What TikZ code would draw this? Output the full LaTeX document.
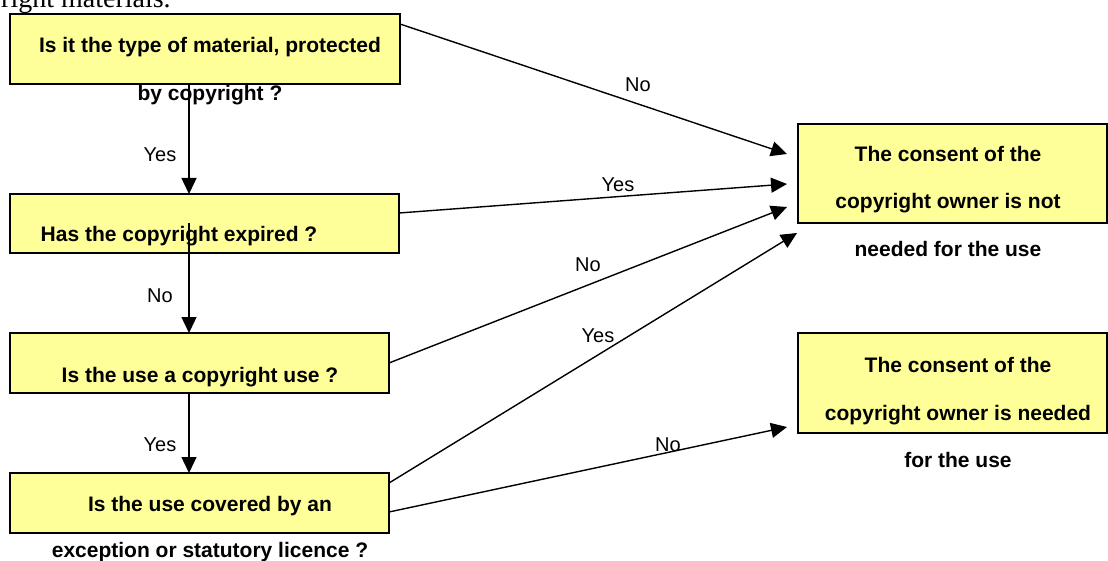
\documentclass[tikz,border=0pt]{standalone}
\usepackage{fontspec}
\setmainfont{Liberation Sans}
\newfontfamily\serifface{Liberation Serif}
\usetikzlibrary{arrows.meta,calc}
\definecolor{boxyellow}{HTML}{FFFF99}
\begin{document}
\begin{tikzpicture}[x=1pt,y=-1pt,
  qbox/.style={draw=black,line width=1.7pt,fill=boxyellow,rectangle,inner sep=0pt,outer sep=0pt,anchor=north west},
  btext/.style={font=\fontsize{21}{25}\selectfont\bfseries,anchor=base,inner sep=0pt},
  lbl/.style={font=\fontsize{20}{24}\selectfont,anchor=base,inner sep=0pt},
  conn/.style={line width=1.4pt,-{Triangle[length=16pt,width=15pt]}}]
\useasboundingbox (0,0) rectangle (1108,561);
% partial text at the top
\node[font=\serifface\fontsize{28}{32}\selectfont,anchor=base west,inner sep=0pt] (top) at (1,8) {right materials.};
% boxes
\node[qbox,minimum width=390pt,minimum height=70pt] (b1) at (10,14) {};
\node[qbox,minimum width=389pt,minimum height=59pt] (b2) at (10,194) {};
\node[qbox,minimum width=379pt,minimum height=60pt] (b3) at (10,333) {};
\node[qbox,minimum width=379pt,minimum height=60pt] (b4) at (10,473) {};
\node[qbox,minimum width=309pt,minimum height=99pt] (r1) at (798,124) {};
\node[qbox,minimum width=309pt,minimum height=100pt] (r2) at (798,333) {};
% box texts
\node[btext] (t1a) at (210,53) {Is it the type of material, protected};
\node[btext] (t1b) at (210,101) {by copyright ?};
\node[btext] (t2) at (179,242) {Has the copyright expired ?};
\node[btext] (t3) at (200,382) {Is the use a copyright use ?};
\node[btext] (t4a) at (210,511) {Is the use covered by an};
\node[btext] (t4b) at (210,557) {exception or statutory licence ?};
\node[btext] (r1a) at (948,162) {The consent of the};
\node[btext] (r1b) at (948,209) {copyright owner is not};
\node[btext] (r1c) at (948,257) {needed for the use};
\node[btext] (r2a) at (958,372) {The consent of the};
\node[btext] (r2b) at (958,420) {copyright owner is needed};
\node[btext] (r2c) at (958,467) {for the use};
% connector end points
\coordinate (pA) at ($(r1.north west)+(-11,30)$);
\coordinate (pB) at ($(r1.north west)+(-11,60)$);
\coordinate (pC) at ($(r1.north west)+(-11,83)$);
\coordinate (pD) at ($(r1.north west)+(-1,109)$);
\coordinate (pE) at ($(r2.north west)+(-11,94)$);
% vertical connectors
\draw[conn] ($(b1.south west)+(179,0)$) -- ($(b2.north west)+(179,0)$);
\draw[conn] ($(b2.north west)+(179,29)$) -- ($(b3.north west)+(179,0)$);
\draw[conn] ($(b3.south west)+(179,0)$) -- ($(b4.north west)+(179,0)$);
% diagonal connectors
\draw[conn] ($(b1.north east)+(0,10)$) -- (pA);
\draw[conn] ($(b2.north east)+(0,19)$) -- (pB);
\draw[conn] ($(b3.north east)+(0,30)$) -- (pC);
\draw[conn] ($(b4.north east)+(0,10)$) -- (pD);
\draw[conn] ($(b4.north east)+(0,39)$) -- (pE);
% labels
\node[lbl] (lY1) at (160,162) {Yes};
\node[lbl] (lN2) at (160,302) {No};
\node[lbl] (lY3) at (160,451) {Yes};
\node[lbl] (lNA) at (638,92) {No};
\node[lbl] (lYB) at (618,192) {Yes};
\node[lbl] (lNC) at (588,272) {No};
\node[lbl] (lYD) at (598,342) {Yes};
\node[lbl] (lNE) at (668,451) {No};
\end{tikzpicture}
\end{document}
